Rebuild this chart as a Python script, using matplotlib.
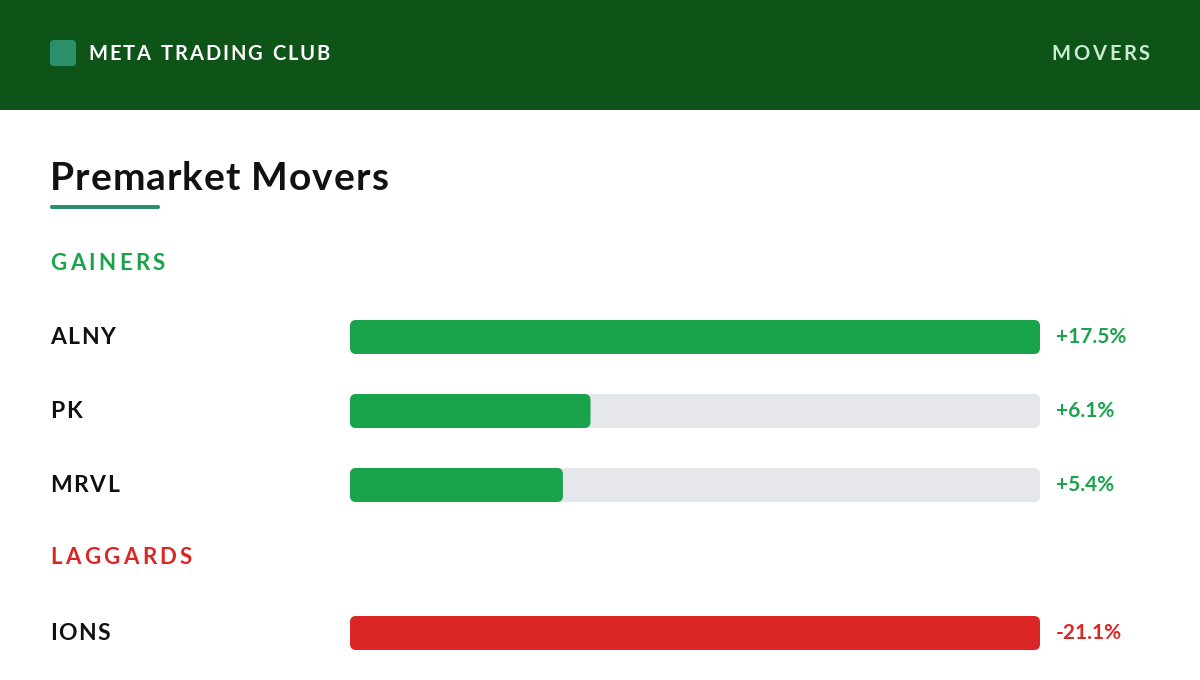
import matplotlib.pyplot as plt
from matplotlib.patches import FancyBboxPatch, Rectangle

plt.rcParams["font.family"] = ["Lato", "DejaVu Sans"]

BRAND = "META TRADING CLUB"
SECTION_TAG = "MOVERS"
TITLE = "Premarket Movers"

GAINER_TICKERS = ["ALNY", "PK", "MRVL"]
GAINER_CHANGES = [17.5, 6.1, 5.4]
LAGGARD_TICKERS = ["IONS"]
LAGGARD_CHANGES = [-21.1]

HEADER_BG = "#0e5419"
ACCENT = "#2b8f6a"
GREEN = "#19a34a"
RED = "#dc2626"
TRACK = "#e5e7eb"
INK = "#111111"

W, H = 1200, 680
TRACK_X0, TRACK_X1 = 350, 1040
BAR_H = 34

fig = plt.figure(figsize=(W / 100, H / 100), dpi=100)
ax = fig.add_axes([0, 0, 1, 1])
ax.set_xlim(0, W)
ax.set_ylim(H, 0)
ax.axis("off")
renderer = fig.canvas.get_renderer()


def rounded(x, y, w, h, r, color):
    ax.add_patch(FancyBboxPatch((x + r, y + r), max(w - 2 * r, 0.01), h - 2 * r,
                                boxstyle=f"round,pad={r}", fc=color, ec="none",
                                mutation_aspect=1))


def char_width(ch, **kw):
    t = ax.text(0, 0, ch, **kw)
    w = t.get_window_extent(renderer).width
    t.remove()
    return w


def spaced(x, y, s, gap, ha="left", space=0.55, **kw):
    widths = [char_width(c if c != " " else "n", **kw) * (space if c == " " else 1)
              for c in s]
    total = sum(widths) + gap * (len(s) - 1)
    if ha == "right":
        x -= total
    for c, w in zip(s, widths):
        if c != " ":
            ax.text(x, y, c, ha="left", **kw)
        x += w + gap


# header band
ax.add_patch(Rectangle((0, 0), W, 110, fc=HEADER_BG, ec="none"))
rounded(50, 40, 26, 26, 4, ACCENT)
spaced(88, 54, BRAND, 1.9, color="white", fontsize=14.5, fontweight="bold",
       va="center")
spaced(1150, 54, SECTION_TAG, 2.8, ha="right", color="#c9ecd3", fontsize=14.5,
       fontweight="bold", va="center")

# title
spaced(50, 190, TITLE, 0.9, space=0.45, color=INK, fontsize=28, fontweight="bold",
       va="baseline")
rounded(50, 205, 110, 4, 2, ACCENT)


def section(label, color, label_y, tickers, changes, row_y0, step):
    spaced(50, label_y, label, 3.4, color=color, fontsize=16, fontweight="bold",
           va="center")
    scale_max = max(abs(c) for c in changes)
    for i, (tk, ch) in enumerate(zip(tickers, changes)):
        yc = row_y0 + i * step
        y0 = yc - BAR_H / 2
        rounded(TRACK_X0, y0, TRACK_X1 - TRACK_X0, BAR_H, 6, TRACK)
        w = (TRACK_X1 - TRACK_X0) * abs(ch) / scale_max
        rounded(TRACK_X0, y0, w, BAR_H, 6, color)
        spaced(50, yc, tk, 1.5, color=INK, fontsize=16.5, fontweight="bold",
               va="center")
        ax.text(1056, yc, f"{ch:+.1f}%", color=color, fontsize=15,
                fontweight="bold", va="center", ha="left")


section("GAINERS", GREEN, 263, GAINER_TICKERS, GAINER_CHANGES, 337, 74)
section("LAGGARDS", RED, 558, LAGGARD_TICKERS, LAGGARD_CHANGES, 633, 74)

fig.savefig("out.png", dpi=100, facecolor="white")
